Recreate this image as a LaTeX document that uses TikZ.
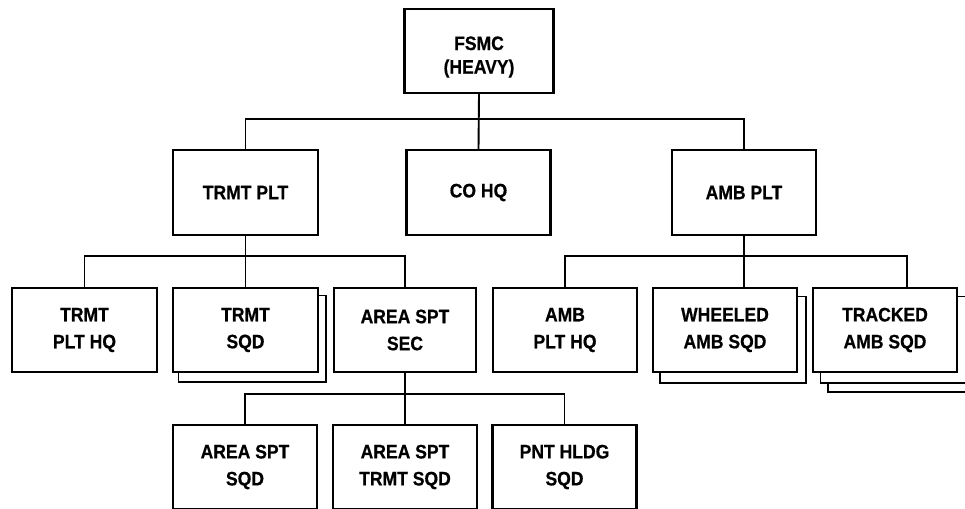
\documentclass[tikz,border=0pt]{standalone}
\usepackage{fontspec}
\setmainfont{Liberation Sans}
\newfontfamily\boxfont[FakeStretch=0.9,FakeBold=0.6]{Liberation Sans Bold}
\usetikzlibrary{backgrounds}
\begin{document}
\begin{tikzpicture}[x=1pt,y=1pt,
  box/.style={draw, line width=2.1pt, fill=white, minimum width=144pt, minimum height=84pt,
    inner sep=0pt, align=center, font=\boxfont\fontsize{19.5}{27}\selectfont},
  lbl/.style={align=center, inner sep=0pt, font=\boxfont\fontsize{19.5}{23.5}\selectfont},
  conn/.style={line width=1.9pt},
  shadowbox/.style={draw, line width=1.9pt, fill=white}]
\useasboundingbox (0,0) rectangle (965,-508);
% level 1
\node[box, minimum width=149pt] (fsmc) at (479,-51) {};
\node[lbl] (fsmctext) at (479,-57) {FSMC\\(HEAVY)};
% level 2
\node[box, minimum width=145pt, minimum height=85pt] (trmtplt) at (245.5,-192.5) {TRMT PLT};
\node[box, minimum height=85pt] (cohq) at (478.5,-192.5) {CO HQ};
\node[box, minimum height=85pt] (ambplt) at (744,-192.5) {AMB PLT};
% level 3
\node[box, minimum width=145pt] (tph) at (84.5,-330) {TRMT\\PLT HQ};
\node[box, minimum width=145pt] (tsqd) at (245.5,-330) {TRMT\\SQD};
\node[box, minimum width=142pt] (asec) at (405,-330) {AREA SPT\\SEC};
\node[box] (aph) at (565,-330) {AMB\\PLT HQ};
\node[box] (wheeled) at (725,-330) {WHEELED\\AMB SQD};
\node[box] (tracked) at (885,-330) {TRACKED\\AMB SQD};
% level 4
\node[box] (assqd) at (245,-467) {AREA SPT\\SQD};
\node[box] (astsqd) at (405,-467) {AREA SPT\\TRMT SQD};
\node[box] (pnt) at (564.5,-467) {PNT HLDG\\SQD};
% stacked shadows
\begin{scope}[on background layer]
  \draw[shadowbox] ([shift={(6.5,-8.5)}]tsqd.south west) rectangle ([shift={(6.5,-8.5)}]tsqd.north east);
  \draw[shadowbox] ([shift={(8,-9.5)}]wheeled.south west) rectangle ([shift={(8,-9.5)}]wheeled.north east);
  \draw[shadowbox] ([shift={(16,-19)}]tracked.south west) rectangle ([shift={(16,-19)}]tracked.north east);
  \draw[shadowbox] ([shift={(8.5,-9.5)}]tracked.south west) rectangle ([shift={(8.5,-9.5)}]tracked.north east);
\end{scope}
% connectors
\draw[conn] (fsmc.south) -- (cohq.north);
\draw[conn] (trmtplt.north) -- ++(0,30) -| (ambplt.north);
\draw[conn] (tph.north) -- ++(0,31) -| (asec.north);
\draw[conn] (trmtplt.south) -- (tsqd.north);
\draw[conn] (aph.north) -- ++(0,31) -| ([xshift=22pt]tracked.north);
\draw[conn] (ambplt.south) -- (ambplt.south |- wheeled.north);
\draw[conn] (assqd.north) -- ++(0,30) -| (pnt.north);
\draw[conn] (asec.south) -- (astsqd.north);
\end{tikzpicture}
\end{document}
